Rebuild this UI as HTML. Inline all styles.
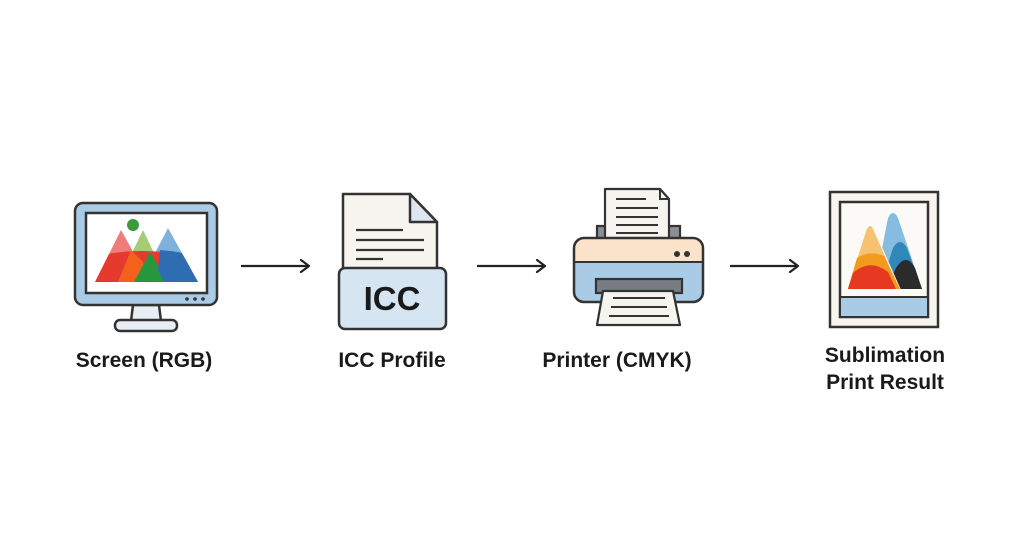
<!DOCTYPE html>
<html><head><meta charset="utf-8"><style>
html,body{margin:0;padding:0;background:#fff;}
svg{display:block}
text{font-family:"Liberation Sans",sans-serif;fill:#1a1a1a;}
</style></head><body>
<svg width="1024" height="559" viewBox="0 0 1024 559">
<defs>
<marker id="ah" markerWidth="12" markerHeight="14" refX="10" refY="7" orient="auto" markerUnits="userSpaceOnUse">
<path d="M2,1 L10,7 L2,13" fill="none" stroke="#222" stroke-width="2.2" stroke-linecap="round" stroke-linejoin="round"/>
</marker>
<clipPath id="mt"><polygon points="121,230 95,282 198,282 168,228 156,252 143,230 132,252"/></clipPath>
</defs>
<!-- Monitor -->
<path d="M133,305 L159,305 L161,321 L131,321 Z" fill="#e8eef3" stroke="#333" stroke-width="2.5"/>
<rect x="115" y="320" width="62" height="11" rx="5" fill="#e8eef3" stroke="#333" stroke-width="2.5"/>
<rect x="75" y="203" width="142" height="102" rx="8" fill="#a9cbe6" stroke="#333" stroke-width="2.5"/>
<rect x="86" y="213" width="121" height="80" fill="#fff" stroke="#333" stroke-width="2.5"/>
<circle cx="187" cy="299" r="1.8" fill="#333"/><circle cx="195" cy="299" r="1.8" fill="#333"/><circle cx="203" cy="299" r="1.8" fill="#333"/>
<polygon points="121,230 95,282 150,282" fill="#ee7d7a"/>
<polygon points="168,228 140,282 198,282" fill="#7fb1dd"/>
<polygon points="143,230 118,282 168,282" fill="#a5cc74"/>
<g clip-path="url(#mt)">
<path d="M90,290 L90,258 Q140,244 200,258 L200,290 Z" fill="#e63a2e"/>
<path d="M123,290 L123,250 L160,250 L160,290 Z" fill="#f06b1c" opacity="0"/>
<polygon points="131,250 118,282 150,282 143,262" fill="#f2621c"/>
<polygon points="150,252 134,282 168,282" fill="#27973d"/>
<path d="M160,250 Q185,252 200,258 L200,290 L168,290 L158,270 Z" fill="#2f6db3"/>
<polygon points="150,282 143,268 139,282" fill="#27973d"/>
</g>
<circle cx="133" cy="225" r="6" fill="#3c9a3a"/>
<!-- arrow 1 -->
<line x1="241" y1="266" x2="309" y2="266" stroke="#222" stroke-width="2.2" marker-end="url(#ah)"/>
<!-- ICC doc -->
<path d="M343,194 L410,194 L437,222 L437,275 L343,275 Z" fill="#f6f4ef" stroke="#333" stroke-width="2.5" stroke-linejoin="round"/>
<path d="M410,194 L410,222 L437,222 Z" fill="#dde6ee" stroke="#333" stroke-width="2.5" stroke-linejoin="round"/>
<g stroke="#333" stroke-width="2.2"><line x1="356" y1="230" x2="403" y2="230"/><line x1="356" y1="240" x2="424" y2="240"/><line x1="356" y1="250" x2="424" y2="250"/><line x1="356" y1="259" x2="383" y2="259"/></g>
<rect x="339" y="268" width="107" height="61" rx="6" fill="#d6e5f2" stroke="#333" stroke-width="2.5"/>
<text x="392" y="310" font-size="33" font-weight="bold" text-anchor="middle" fill="#111">ICC</text>
<!-- arrow 2 -->
<line x1="477" y1="266" x2="545" y2="266" stroke="#222" stroke-width="2.2" marker-end="url(#ah)"/>
<!-- Printer -->
<rect x="597" y="226" width="83" height="20" fill="#8a8f94" stroke="#333" stroke-width="2.2"/>
<path d="M605,189 L660,189 L669,199 L669,250 L605,250 Z" fill="#f6f4ef" stroke="#333" stroke-width="2.2" stroke-linejoin="round"/>
<path d="M660,189 L660,199 L669,199" fill="none" stroke="#333" stroke-width="2"/>
<g stroke="#333" stroke-width="2"><line x1="616" y1="199" x2="646" y2="199"/><line x1="616" y1="208" x2="658" y2="208"/><line x1="616" y1="217" x2="658" y2="217"/><line x1="616" y1="225" x2="658" y2="225"/><line x1="616" y1="233" x2="658" y2="233"/></g>
<path d="M584,238 L693,238 Q703,238 703,248 L703,262 L574,262 L574,248 Q574,238 584,238 Z" fill="#fbe3c9"/>
<path d="M574,262 L703,262 L703,292 Q703,302 693,302 L584,302 Q574,302 574,292 Z" fill="#a9cbe6"/>
<rect x="574" y="238" width="129" height="64" rx="10" fill="none" stroke="#333" stroke-width="2.5"/>
<line x1="574" y1="262" x2="703" y2="262" stroke="#333" stroke-width="2"/>
<circle cx="677" cy="254" r="3" fill="#333"/><circle cx="687" cy="254" r="3" fill="#333"/>
<rect x="596" y="279" width="86" height="14" fill="#777d82" stroke="#333" stroke-width="2.2"/>
<path d="M603,291 L673,291 L680,325 L597,325 Z" fill="#f6f4ef" stroke="#333" stroke-width="2.2" stroke-linejoin="round"/>
<g stroke="#333" stroke-width="2"><line x1="613" y1="298" x2="665" y2="298"/><line x1="611" y1="307" x2="667" y2="307"/><line x1="609" y1="316" x2="669" y2="316"/></g>
<!-- arrow 3 -->
<line x1="730" y1="266" x2="798" y2="266" stroke="#222" stroke-width="2.2" marker-end="url(#ah)"/>
<!-- Print result -->
<rect x="830" y="192" width="108" height="135" fill="#f8f5ef" stroke="#333" stroke-width="2.5"/>
<rect x="840" y="202" width="88" height="115" fill="#fbfaf6" stroke="#333" stroke-width="2.5"/>
<rect x="841" y="297" width="86" height="19" fill="#a9cbe6"/>
<line x1="840" y1="297" x2="928" y2="297" stroke="#333" stroke-width="2"/>
<path d="M874,289 L888,218 Q893,208 898,218 L922,289 Z" fill="#86bcdf"/>
<path d="M880,289 L893,248 Q900,236 907,248 L922,289 Z" fill="#2f88b8"/>
<path d="M886,289 L896,268 Q906,252 915,268 L922,289 Z" fill="#2b2b2b"/>
<path d="M847,289 L866,230 Q870,221 874,230 L900,289 Z" fill="#f8c170" stroke="#fbfaf6" stroke-width="1"/>
<path d="M848,289 L857,258 Q870,250 884,256 L900,289 Z" fill="#f39a1e"/>
<path d="M848,289 L853,273 Q870,258 888,272 L896,289 Z" fill="#e53922"/>
<!-- labels -->
<g font-size="21" font-weight="bold" text-anchor="middle">
<text x="144" y="367">Screen (RGB)</text>
<text x="392" y="367">ICC Profile</text>
<text x="617" y="367">Printer (CMYK)</text>
<text x="885" y="362">Sublimation</text>
<text x="885" y="389">Print Result</text>
</g>
</svg>
</body></html>
